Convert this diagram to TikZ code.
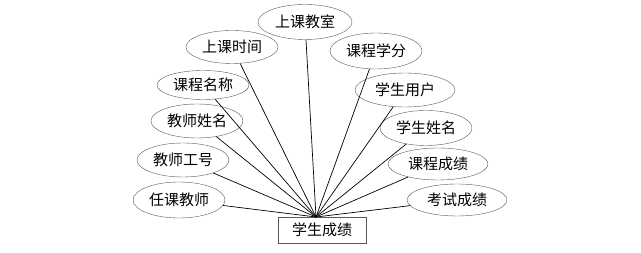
\documentclass[tikz,border=0pt]{standalone}
\usepackage{fontspec}
\setmainfont{Noto Sans CJK SC}
\usetikzlibrary{shapes.geometric}

\begin{document}
\begin{tikzpicture}[x=1pt, y=-1pt, font=\fontsize{15}{17}\selectfont,
  attr/.style={draw=black!65,ellipse,inner sep=0pt,minimum width=92pt,minimum height=34pt},
  ent/.style={draw=black!65,rectangle,inner sep=0pt,minimum width=88pt,minimum height=26pt},
  lnk/.style={draw=black,line width=0.7pt}]
  \useasboundingbox (0,0) rectangle (641,253);
  \node[ent](cj) at (322,230){学生成绩};
  \coordinate(hub) at (316,217);
  \node[attr,minimum height=36pt](rk) at (179,200){任课教师};
  \node[attr](gh) at (183,160){教师工号};
  \node[attr](jx) at (197,121){教师姓名};
  \node[attr,minimum height=29pt](km) at (203,85){课程名称};
  \node[attr,minimum height=33pt](sj) at (232,47){上课时间};
  \node[attr,minimum width=94pt,minimum height=35pt](js) at (305,22){上课教室};
  \node[attr,minimum height=36pt](xf) at (376,51){课程学分};
  \node[attr,minimum width=100pt](yh) at (405,90){学生用户};
  \node[attr,minimum height=35pt](xm) at (426,128){学生姓名};
  \node[attr,minimum width=100pt,minimum height=32pt](kc) at (438,164){课程成绩};
  \node[attr,minimum width=100pt,minimum height=32pt](ks) at (457,200){考试成绩};
  \draw[lnk](rk)--(hub);\draw[lnk](gh)--(hub);\draw[lnk](jx)--(hub);\draw[lnk](km)--(hub);
  \draw[lnk](sj)--(hub);\draw[lnk](js)--(hub);\draw[lnk](xf)--(hub);\draw[lnk](yh)--(hub);
  \draw[lnk](xm)--(hub);\draw[lnk](kc)--(hub);\draw[lnk](ks)--(hub);
\end{tikzpicture}
\end{document}
